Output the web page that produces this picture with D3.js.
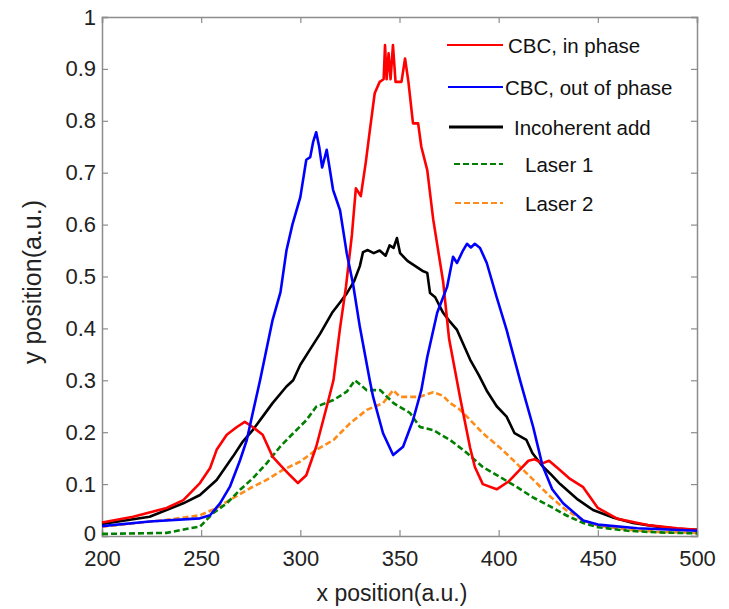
<!DOCTYPE html>
<html>
<head>
<meta charset="utf-8">
<script src="https://cdn.jsdelivr.net/npm/d3@7"></script>
<style>
  body { margin: 0; background: #fff; }
  svg { font-family: Arial, "Liberation Sans", sans-serif; }
</style>
</head>
<body>
<div id="chart"></div>
<script>
// CBC, in phase
let xInPhase = [200,215.7,232.6,241,249.4,254.5,257.8,262.9,268,272,276,281,286,289.8,294.8,298.8,303,308,313.3,316.7,320,323,326,328,330.5,333,335,337.5,340,342,342.7,343.5,344.5,345.5,346.7,348,351,352.8,354.5,356.8,359.4,361,364,367,372,375,380.5,385.6,388,392,399,405,410,415,418,422,425.4,430,436,442.6,450,460,475,490,500]
let yInPhase = [0.026,0.037,0.054,0.069,0.102,0.131,0.166,0.195,0.21,0.22,0.21,0.195,0.153,0.137,0.117,0.102,0.117,0.172,0.249,0.3,0.4,0.48,0.58,0.67,0.655,0.72,0.78,0.853,0.875,0.88,0.946,0.88,0.93,0.88,0.946,0.875,0.875,0.92,0.875,0.795,0.795,0.75,0.705,0.61,0.49,0.38,0.268,0.17,0.133,0.1,0.09,0.105,0.125,0.145,0.148,0.14,0.145,0.13,0.11,0.094,0.054,0.033,0.021,0.015,0.012]

// CBC, out of phase
let xOutPhase = [200,224,249.4,254.5,259.5,264.5,269.6,273,276,279.7,286,290,293,296,300,303,305,306.5,308,309.5,311,313.3,316.5,318.3,320,323.4,326.6,330,335,336.7,341.7,346.8,351.8,356.8,361,364,369,372,374,377,379,382,384,386,388,390.6,394,399,404,410.8,417.4,422,427,432.5,442.6,450,470,500]
let yOutPhase = [0.019,0.028,0.034,0.04,0.063,0.095,0.146,0.185,0.237,0.3,0.416,0.47,0.55,0.6,0.653,0.725,0.73,0.76,0.778,0.75,0.71,0.744,0.667,0.647,0.628,0.545,0.485,0.403,0.3,0.268,0.198,0.156,0.172,0.223,0.281,0.345,0.43,0.46,0.48,0.538,0.526,0.55,0.563,0.556,0.563,0.555,0.526,0.46,0.397,0.3,0.21,0.137,0.09,0.063,0.03,0.022,0.015,0.01]

// Incoherent add
let xIncoh = [200,224,241,249.4,257.8,266,271,276,281,286,293,296.4,300,305,310,316,320,323.5,327,330,331.6,334,337,340,343,345,347,348.7,350.3,354,358,362,364,365.4,368,372,375,379,385.6,390,394,399,404,408,414,417,422,426,431,440,447.6,458,467.8,480,490,500]
let yIncoh = [0.023,0.037,0.063,0.079,0.108,0.153,0.182,0.204,0.23,0.256,0.288,0.3,0.33,0.36,0.39,0.43,0.45,0.468,0.49,0.52,0.547,0.551,0.545,0.55,0.54,0.56,0.555,0.574,0.545,0.53,0.52,0.51,0.507,0.468,0.46,0.43,0.415,0.397,0.34,0.31,0.28,0.25,0.23,0.198,0.185,0.16,0.135,0.12,0.1,0.07,0.05,0.035,0.025,0.018,0.014,0.012]

// Laser 1
let xLaser1 = [200,232.6,244.4,249.4,256,262.9,269.6,276,283,289.8,296.4,303,308,316.7,323.4,327.6,333.5,340.3,347,355.3,360.3,367,375.5,384,392,400,409,417,426,434,442.6,450,465,480,500]
let yLaser1 = [0.004,0.006,0.015,0.018,0.044,0.063,0.089,0.111,0.14,0.172,0.198,0.223,0.249,0.262,0.278,0.3,0.281,0.281,0.256,0.237,0.21,0.204,0.185,0.16,0.133,0.115,0.095,0.075,0.057,0.04,0.025,0.017,0.01,0.007,0.005]

// Laser 2
let xLaser2 = [200,232.6,249.4,257.8,266,274.6,283,291,299.8,308,316.7,325,333.5,341.7,346.8,350.3,355.3,360,367,372,375.5,380,384,392,400.7,409,417,426,434,442.6,450,465,480,500]
let yLaser2 = [0.018,0.031,0.04,0.054,0.073,0.092,0.108,0.127,0.143,0.166,0.185,0.217,0.243,0.256,0.281,0.268,0.268,0.268,0.277,0.27,0.256,0.245,0.23,0.198,0.17,0.14,0.11,0.076,0.05,0.03,0.02,0.012,0.008,0.006]

let seriesNames = ['CBC, in phase', 'CBC, out of phase', 'Incoherent add', 'Laser 1', 'Laser 2']
let seriesColors = ['#ff0000', '#0000ff', '#000000', '#008000', '#ff8c1a']
let xTicks = [200, 250, 300, 350, 400, 450, 500]
let yTicks = [0, 0.1, 0.2, 0.3, 0.4, 0.5, 0.6, 0.7, 0.8, 0.9, 1]

let series = [
  { x: xInPhase, y: yInPhase, dash: null },
  { x: xOutPhase, y: yOutPhase, dash: null },
  { x: xIncoh, y: yIncoh, dash: null },
  { x: xLaser1, y: yLaser1, dash: '6,3' },
  { x: xLaser2, y: yLaser2, dash: '6,3' }
]

let W = 729, H = 609
let mLeft = 102, mRight = 697, mTop = 17, mBottom = 536

let svg = d3.select('#chart').append('svg')
  .attr('width', W).attr('height', H)

let x = d3.scaleLinear().domain([200, 500]).range([mLeft, mRight])
let y = d3.scaleLinear().domain([0, 1]).range([mBottom, mTop])

let axisColor = '#8c8c8c'

// box + ticks
let gx = svg.append('g').attr('transform', 'translate(0,' + mBottom + ')')
  .call(d3.axisBottom(x).tickValues(xTicks).tickSize(-6).tickPadding(14).tickFormat(d3.format('d')))
let gxTop = svg.append('g').attr('transform', 'translate(0,' + mTop + ')')
  .call(d3.axisTop(x).tickValues(xTicks).tickSize(-6).tickFormat(''))
let gy = svg.append('g').attr('transform', 'translate(' + mLeft + ',0)')
  .call(d3.axisLeft(y).tickValues(yTicks).tickSize(-6).tickPadding(6).tickFormat(function(d){ return d === 0 || d === 1 ? d3.format('d')(d) : d3.format('.1f')(d) }))
let gyRight = svg.append('g').attr('transform', 'translate(' + mRight + ',0)')
  .call(d3.axisRight(y).tickValues(yTicks).tickSize(-6).tickFormat(''))

;[gx, gxTop, gy, gyRight].forEach(function(g) {
  g.select('.domain').attr('stroke', axisColor).attr('stroke-width', 1.5)
  g.selectAll('.tick line').attr('stroke', axisColor).attr('stroke-width', 1.2)
  g.selectAll('.tick text').attr('fill', '#222').style('font-size', '22px')
})
// the "0" label sits a little high, like the reference
gy.selectAll('.tick text').filter(function(d){ return d === 0 }).attr('dy', '0.2em')

// lines
let line = d3.line()
  .x(function(d){ return x(d[0]) })
  .y(function(d){ return y(d[1]) })

let drawOrder = [4, 3, 2, 0, 1]
drawOrder.forEach(function(i) {
  let s = series[i]
  let pts = s.x.map(function(v, k){ return [v, s.y[k]] })
  svg.append('path')
    .datum(pts)
    .attr('fill', 'none')
    .attr('stroke', seriesColors[i])
    .attr('stroke-width', 2.6)
    .attr('stroke-linejoin', 'round')
    .attr('stroke-dasharray', s.dash)
    .attr('d', line)
})

// legend
let legendY = [45, 87, 127, 164, 203]
let legendX1 = [447, 448, 449, 454, 455]
let legendTextX = [508, 505, 514, 525, 525]
let legend = svg.append('g')
seriesNames.forEach(function(name, i) {
  legend.append('line')
    .attr('x1', legendX1[i]).attr('x2', 503)
    .attr('y1', legendY[i]).attr('y2', legendY[i])
    .attr('stroke', seriesColors[i])
    .attr('stroke-width', i === 2 ? 3 : 2.2)
    .attr('stroke-dasharray', series[i].dash)
  legend.append('text')
    .attr('x', legendTextX[i]).attr('y', legendY[i] + 7.5)
    .attr('fill', '#111')
    .style('font-size', '20.5px')
    .text(name)
})

// axis labels
svg.append('text')
  .attr('x', 392).attr('y', 601)
  .attr('text-anchor', 'middle')
  .attr('fill', '#222')
  .style('font-size', '23px')
  .text('x position(a.u.)')

svg.append('text')
  .attr('transform', 'translate(41,282) rotate(-90)')
  .attr('text-anchor', 'middle')
  .attr('fill', '#222')
  .style('font-size', '25px')
  .text('y position(a.u.)')
</script>
</body>
</html>
